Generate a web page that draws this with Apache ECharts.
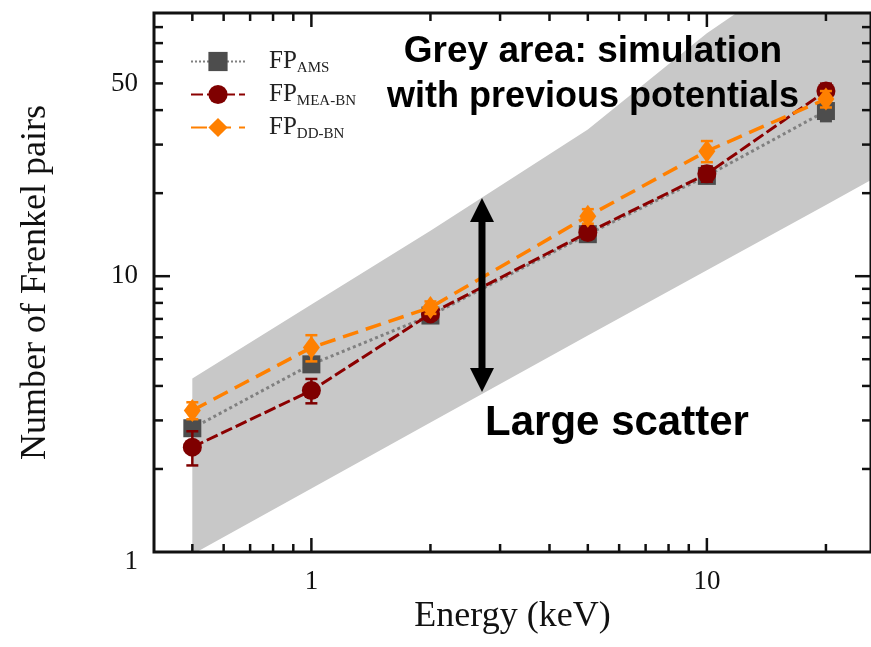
<!DOCTYPE html>
<html>
<head>
<meta charset="utf-8">
<script src="https://cdn.jsdelivr.net/npm/echarts@6/dist/echarts.min.js"></script>
<style>
  html, body { margin: 0; padding: 0; background: #fff; }
  #chart { width: 871px; height: 647px; }
</style>
</head>
<body>
<div id="chart"></div>
<script>
// Recoil energy (keV) and number of Frenkel pairs per potential
const energy = [0.5, 1, 2, 5, 10, 20];
const fpAMS = [2.81, 4.79, 7.2, 14.2, 23.1, 39.7];
const fpMEA = [2.40, 3.85, 7.3, 14.4, 23.5, 46.9];
const fpDD  = [3.26, 5.51, 7.7, 16.5, 28.4, 43.9];
const errAMS = [0.15, 0.25, 0.3, 0.6, 1.2, 3.2];
const errMEA = [0.34, 0.39, 0.35, 0.7, 1.5, 3.0];
const errDD  = [0.23, 0.6, 0.4, 1.0, 2.5, 3.0];

// Spread of earlier simulations (upper / lower envelope)
const bandEnergy = [0.5, 1, 2, 5, 10, 20, 30];
const bandUpper  = [4.26, 7.9, 14.6, 34, 76, 150, 230];
const bandLower  = [0.98, 1.7, 2.95, 6.1, 10.5, 18.1, 25];

// Scatter arrow
const arrowEnergy = 2.7;
const arrowRange = [3.8, 19.2];

// Axis ranges and ticks
const xRange = [0.4, 26];
const yRange = [1, 90];
const xMajorTicks = [1, 10];
const xMinorTicks = [0.5, 0.6, 0.7, 0.8, 0.9, 2, 3, 4, 5, 6, 7, 8, 9, 20];
const yMajorTicks = [10];
const yMinorTicks = [2, 3, 4, 5, 6, 7, 8, 9, 20, 30, 40, 50, 60, 70, 80];
const xTickLabels = [1, 10];
const yTickLabels = [1, 10, 50];

const seriesNames = ['FP_AMS', 'FP_MEA-BN', 'FP_DD-BN'];
const legendSub = { 'FP_AMS': 'AMS', 'FP_MEA-BN': 'MEA-BN', 'FP_DD-BN': 'DD-BN' };

const SERIF = '"Liberation Serif", "DejaVu Serif", serif';
const SANS = '"Liberation Sans", Arial, sans-serif';

const chart = echarts.init(document.getElementById('chart'), null, { renderer: 'canvas' });

function pairs(xs, ys) { return xs.map((x, i) => [x, ys[i]]); }
function triples(xs, ys, es) { return xs.map((x, i) => [x, ys[i], es[i]]); }

function errorBarSeries(name, values, errs, color, z) {
  return {
    type: 'custom',
    name: name + ' err',
    z: z,
    silent: true,
    encode: { x: 0, y: 1 },
    data: triples(energy, values, errs),
    renderItem: function (params, api) {
      const x = api.value(0), y = api.value(1), e = api.value(2);
      const hi = api.coord([x, y + e]);
      const lo = api.coord([x, y - e]);
      const cap = 6;
      const st = { stroke: color, lineWidth: 2.5 };
      return {
        type: 'group',
        children: [
          { type: 'line', shape: { x1: hi[0], y1: hi[1], x2: lo[0], y2: lo[1] }, style: st },
          { type: 'line', shape: { x1: hi[0] - cap, y1: hi[1], x2: hi[0] + cap, y2: hi[1] }, style: st },
          { type: 'line', shape: { x1: lo[0] - cap, y1: lo[1], x2: lo[0] + cap, y2: lo[1] }, style: st }
        ]
      };
    }
  };
}

const option = {
  animation: false,
  backgroundColor: '#ffffff',
  grid: { left: 154, top: 13, width: 719, height: 539, show: false },
  xAxis: {
    type: 'log', logBase: 10, min: xRange[0], max: xRange[1],
    name: 'Energy (keV)', nameLocation: 'middle', nameGap: 47,
    nameTextStyle: { fontFamily: SERIF, fontSize: 36, color: '#111' },
    axisLine: { show: false }, axisTick: { show: false },
    axisLabel: { show: false }, splitLine: { show: false }
  },
  yAxis: {
    type: 'log', logBase: 10, min: yRange[0], max: yRange[1],
    name: 'Number of Frenkel pairs', nameLocation: 'middle', nameGap: 100,
    nameTextStyle: { fontFamily: SERIF, fontSize: 36, color: '#111' },
    axisLine: { show: false }, axisTick: { show: false },
    axisLabel: { show: false }, splitLine: { show: false }
  },
  legend: {
    orient: 'vertical', left: 190, top: 49, padding: 0,
    itemWidth: 54, itemHeight: 24, itemGap: 6,
    data: seriesNames,
    formatter: function (name) { return '{fp|FP}{sub|' + legendSub[name] + '}'; },
    textStyle: {
      color: '#222',
      rich: {
        fp: { fontFamily: SERIF, fontSize: 25, color: '#222', lineHeight: 26, padding: [0, 0, 0, 19] },
        sub: { fontFamily: SERIF, fontSize: 15, color: '#222', padding: [14, 0, 0, 0] }
      }
    }
  },
  graphic: [
    { type: 'text', x: 593, y: 52, z: 20,
      style: { text: 'Grey area: simulation', fontFamily: SANS, fontWeight: 'bold', fontSize: 37,
               fill: '#000', align: 'center', verticalAlign: 'middle' } },
    { type: 'text', x: 593, y: 97, z: 20,
      style: { text: 'with previous potentials', fontFamily: SANS, fontWeight: 'bold', fontSize: 36,
               fill: '#000', align: 'center', verticalAlign: 'middle' } },
    { type: 'text', x: 617, y: 423, z: 20,
      style: { text: 'Large scatter', fontFamily: SANS, fontWeight: 'bold', fontSize: 42,
               fill: '#000', align: 'center', verticalAlign: 'middle' } }
  ],
  series: [
    // grey envelope of earlier simulations
    {
      type: 'custom', name: 'band', z: 1, silent: true,
      data: [[1, 2]],
      renderItem: function (params, api) {
        const pts = [];
        bandEnergy.forEach((e, i) => pts.push(api.coord([e, bandUpper[i]])));
        for (let i = bandEnergy.length - 1; i >= 0; i--) pts.push(api.coord([bandEnergy[i], bandLower[i]]));
        const cs = params.coordSys;
        return {
          type: 'polygon',
          shape: { points: pts },
          style: { fill: '#c8c8c8' },
          clipPath: { type: 'rect', shape: { x: cs.x, y: cs.y, width: cs.width, height: cs.height } }
        };
      }
    },
    errorBarSeries('FP_AMS', fpAMS, errAMS, '#4d4d4d', 2),
    {
      type: 'line', name: 'FP_AMS', z: 3,
      data: pairs(energy, fpAMS),
      symbol: 'rect', symbolSize: 18,
      itemStyle: { color: '#4d4d4d' },
      lineStyle: { color: '#808080', width: 3, type: 'dotted' }
    },
    errorBarSeries('FP_MEA-BN', fpMEA, errMEA, '#7f0000', 4),
    {
      type: 'line', name: 'FP_MEA-BN', z: 5,
      data: pairs(energy, fpMEA),
      symbol: 'circle', symbolSize: 19,
      itemStyle: { color: '#7f0000' },
      lineStyle: { color: '#8b0000', width: 3, type: [12, 4] }
    },
    errorBarSeries('FP_DD-BN', fpDD, errDD, '#ff8000', 6),
    {
      type: 'line', name: 'FP_DD-BN', z: 7,
      data: pairs(energy, fpDD),
      symbol: 'diamond', symbolSize: [17, 23],
      itemStyle: { color: '#ff8000' },
      lineStyle: { color: '#ff8000', width: 3.5, type: [16, 8] }
    },
    // double-headed arrow marking the scatter
    {
      type: 'custom', name: 'arrow', z: 8, silent: true,
      data: [[arrowEnergy, arrowRange[0]]],
      renderItem: function (params, api) {
        const top = api.coord([arrowEnergy, arrowRange[1]]);
        const bot = api.coord([arrowEnergy, arrowRange[0]]);
        const h = 24, w = 12, x = top[0];
        return {
          type: 'group',
          children: [
            { type: 'line', shape: { x1: x, y1: top[1] + h - 2, x2: x, y2: bot[1] - h + 2 },
              style: { stroke: '#000', lineWidth: 7 } },
            { type: 'polygon', shape: { points: [[x, top[1]], [x - w, top[1] + h], [x + w, top[1] + h]] },
              style: { fill: '#000' } },
            { type: 'polygon', shape: { points: [[x, bot[1]], [x - w, bot[1] - h], [x + w, bot[1] - h]] },
              style: { fill: '#000' } }
          ]
        };
      }
    },
    // frame, inward ticks and tick labels
    {
      type: 'custom', name: 'axes', z: 10, silent: true,
      data: [[1, 2]],
      renderItem: function (params, api) {
        const cs = params.coordSys;
        const left = cs.x, right = cs.x + cs.width, top = cs.y, bottom = cs.y + cs.height;
        const col = '#111';
        const children = [];
        const tick = (x1, y1, x2, y2, lw) => children.push({
          type: 'line', shape: { x1, y1, x2, y2 }, style: { stroke: col, lineWidth: lw }
        });
        xMajorTicks.forEach(v => { const px = api.coord([v, yRange[0]])[0];
          tick(px, bottom, px, bottom - 14, 2.5); tick(px, top, px, top + 14, 2.5); });
        xMinorTicks.forEach(v => { const px = api.coord([v, yRange[0]])[0];
          tick(px, bottom, px, bottom - 8, 2.5); tick(px, top, px, top + 8, 2.5); });
        yMajorTicks.forEach(v => { const py = api.coord([xRange[0], v])[1];
          tick(left, py, left + 16, py, 2.5); tick(right, py, right - 16, py, 2.5); });
        yMinorTicks.forEach(v => { const py = api.coord([xRange[0], v])[1];
          tick(left, py, left + 9, py, 2.5); tick(right, py, right - 9, py, 2.5); });
        children.push({ type: 'rect', shape: { x: left, y: top, width: cs.width, height: cs.height },
          style: { fill: null, stroke: col, lineWidth: 3 } });
        xTickLabels.forEach(v => { const px = api.coord([v, yRange[0]])[0];
          children.push({ type: 'text', x: px, y: bottom + 30,
            style: { text: String(v), fontFamily: SERIF, fontSize: 27, fill: col,
                     align: 'center', verticalAlign: 'middle' } }); });
        yTickLabels.forEach(v => { let py = api.coord([xRange[0], v])[1];
          if (v === yRange[0]) py += 10;
          children.push({ type: 'text', x: left - 16, y: py,
            style: { text: String(v), fontFamily: SERIF, fontSize: 27, fill: col,
                     align: 'right', verticalAlign: 'middle' } }); });
        return { type: 'group', children: children };
      }
    }
  ]
};

chart.setOption(option);
</script>
</body>
</html>
